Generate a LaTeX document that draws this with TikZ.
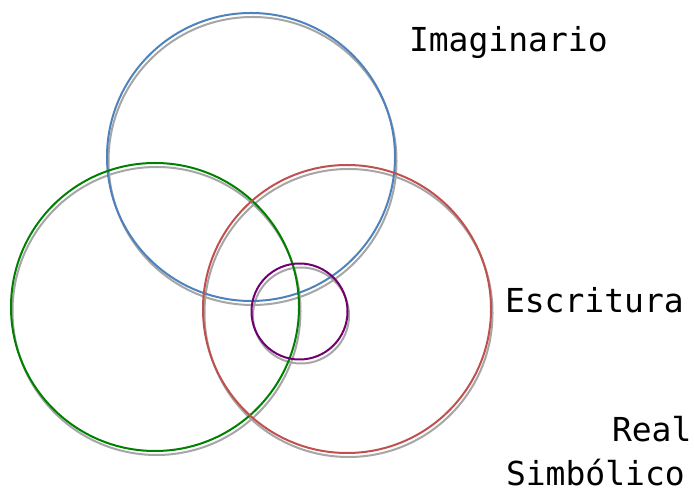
\documentclass[tikz,border=0pt]{standalone}
\usepackage{fontspec}
\setmonofont{DejaVu Sans Mono}
\definecolor{imagblue}{RGB}{79,129,189}
\definecolor{realred}{RGB}{192,80,77}
\definecolor{simbgreen}{RGB}{0,128,0}
\definecolor{escpurple}{RGB}{112,0,112}
\definecolor{shadowgray}{RGB}{166,166,166}
\begin{document}
\begin{tikzpicture}[x=.5pt,y=-.5pt,line width=1pt,font=\ttfamily\fontsize{16.5}{18}\selectfont]
\useasboundingbox (0,0) rectangle (694,490);
\foreach \cx/\cy/\r in {251/157/144,155/307/144,347/309/144,299.5/311.5/48}{\draw[shadowgray] ({\cx+1.5},{\cy+4}) circle (\r);}
\draw[imagblue] (251,157) circle (144);
\draw[simbgreen] (155,307) circle (144);
\draw[realred] (347,309) circle (144);
\draw[escpurple] (299.5,311.5) circle (48);
\node[anchor=base west,inner sep=0pt] (imag) at (408,52) {Imaginario};
\node[anchor=base west,inner sep=0pt] (escr) at (504,313) {Escritura};
\node[anchor=base west,inner sep=0pt] (real) at (611,442) {Real};
\node[anchor=base west,inner sep=0pt] (simb) at (505,485) {Simbólico};
\end{tikzpicture}
\end{document}
